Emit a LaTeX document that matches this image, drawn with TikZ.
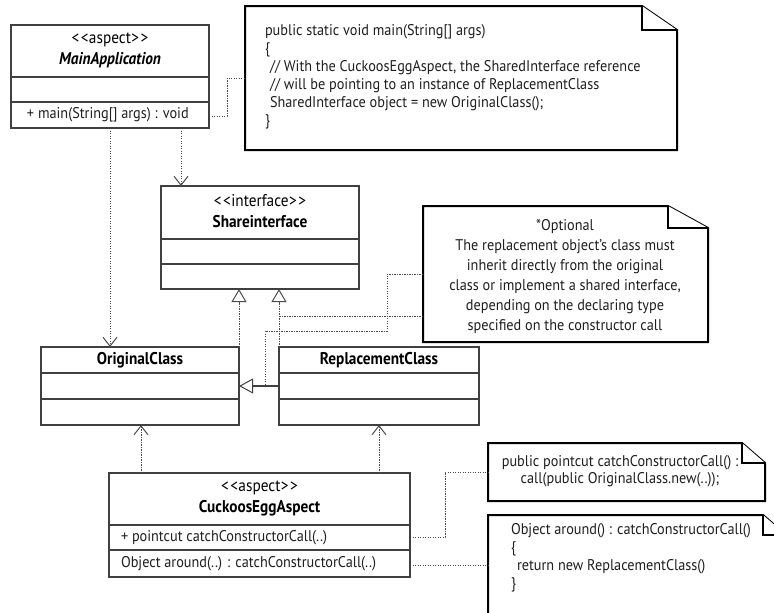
\documentclass[tikz,border=0pt]{standalone}
\usepackage{fontspec}
\setmainfont{PT Sans}[FakeStretch=0.92]
\newfontfamily\hdrfont{PT Sans}[FakeStretch=0.9]
\usetikzlibrary{arrows.meta,calc}
\newcommand\NoteOutline[3]{%
  \draw[noteline] (#1.north west) -- ([xshift=-#2pt]#1.north east) -- ([yshift=-#3pt]#1.north east) -- (#1.south east) -- (#1.south west) -- cycle;
  \draw[noteline] ([xshift=-#2pt]#1.north east) |- ([yshift=-#3pt]#1.north east);}
\newcommand\gl{<\kern1.5pt<\kern0.5pt}
\newcommand\gr{\kern0.5pt>\kern1.5pt>}
\begin{document}
\begin{tikzpicture}[x=1pt,y=-1pt,
  every node/.style={inner sep=0pt, outer sep=0pt},
  txt/.style={font=\fontsize{15.5}{18}\selectfont, text=black!88},
  hdr/.style={font=\hdrfont\fontsize{17}{21}\selectfont, align=center, text=black},
  cls/.style={draw=black!75, line width=1.1pt, anchor=north west, fill=white},
  clsline/.style={draw=black!75, line width=1.1pt},
  notebox/.style={anchor=north west},
  noteline/.style={draw=black, line width=2pt, fill=white, line join=miter},
  dots/.style={draw=black!70, line width=1pt, dash pattern=on 1.2pt off 1.3pt},
  dep/.style={dots, -{Straight Barb[length=9pt,width=14pt,line width=1pt]}},
  real/.style={dots, -{Triangle[open,length=13pt,width=15pt,line width=1pt,fill=white]}},
  gen/.style={draw=black!75, line width=1.1pt, -{Triangle[open,length=14pt,width=15pt,line width=1pt,fill=white]}},
  link/.style={dots}]
\useasboundingbox (0,0) rectangle (774,613);
\clip (0,0) rectangle (774,613);
\fill[white] (0,0) rectangle (774,613);

% ---------- class boxes ----------
\node[cls, minimum width=198pt, minimum height=103pt] (mainapp) at (11,25) {};
\draw[clsline] ([yshift=-52pt]mainapp.north west) -- ([yshift=-52pt]mainapp.north east);
\draw[clsline] ([yshift=-77pt]mainapp.north west) -- ([yshift=-77pt]mainapp.north east);
\node[hdr] (mainapp-h) at (110,50) {\gl aspect\gr\\\textbf{\textit{MainApplication}}};
\node[txt, anchor=west] (mainapp-m) at (27,115) {+ main(String[] args) : void};

\node[cls, minimum width=198pt, minimum height=103pt] (share) at (161,186) {};
\draw[clsline] ([yshift=-53pt]share.north west) -- ([yshift=-53pt]share.north east);
\draw[clsline] ([yshift=-78pt]share.north west) -- ([yshift=-78pt]share.north east);
\node[hdr] (share-h) at (260,211) {\gl interface\gr\\\textbf{Shareinterface}};

\node[cls, minimum width=198pt, minimum height=78pt] (orig) at (41,347) {};
\draw[clsline] ([yshift=-26pt]orig.north west) -- ([yshift=-26pt]orig.north east);
\draw[clsline] ([yshift=-52pt]orig.north west) -- ([yshift=-52pt]orig.north east);
\node[hdr] (orig-h) at (140,360) {\textbf{OriginalClass}};

\node[cls, minimum width=200pt, minimum height=78pt] (repl) at (279,347) {};
\draw[clsline] ([yshift=-26pt]repl.north west) -- ([yshift=-26pt]repl.north east);
\draw[clsline] ([yshift=-52pt]repl.north west) -- ([yshift=-52pt]repl.north east);
\node[hdr] (repl-h) at (379,360) {\textbf{ReplacementClass}};

\node[cls, minimum width=301pt, minimum height=104pt] (cuckoo) at (109,473) {};
\draw[clsline] ([yshift=-52pt]cuckoo.north west) -- ([yshift=-52pt]cuckoo.north east);
\draw[clsline] ([yshift=-77pt]cuckoo.north west) -- ([yshift=-77pt]cuckoo.north east);
\node[hdr] (cuckoo-h) at (259.5,498.5) {\gl aspect\gr\\\textbf{CuckoosEggAspect}};
\node[txt, anchor=west] (cuckoo-p) at (121,538) {+ pointcut catchConstructorCall(..)};
\node[txt, anchor=west] (cuckoo-a) at (121,564) {Object around(..) : catchConstructorCall(..)};

% ---------- notes ----------
\node[notebox, minimum width=432pt, minimum height=144pt] (note1) at (245,6) {};
\NoteOutline{note1}{35}{24}
\node[txt, anchor=west, align=left] (note1-t) at (265,77) {public static void main(String[] args)\\
\{\\
\hspace*{5pt}// With the CuckoosEggAspect, the SharedInterface reference\\
\hspace*{5pt}// will be pointing to an instance of ReplacementClass\\
\hspace*{5pt}SharedInterface object = new OriginalClass();\\
\}};

\node[notebox, minimum width=285pt, minimum height=136pt] (note2) at (423,206) {};
\NoteOutline{note2}{40}{22}
\node[txt, align=center, font=\fontsize{15.5}{20}\selectfont] (note2-t) at (565,277) {*Optional\\
The replacement object's class must\\
inherit directly from the original\\
class or implement a shared interface,\\
depending on the declaring type\\
specified on the constructor call};

\node[notebox, minimum width=277pt, minimum height=58pt] (note3) at (488,443) {};
\NoteOutline{note3}{23}{20}
\node[txt, align=center, font=\fontsize{15.5}{17}\selectfont] (note3-t) at (620,471) {public pointcut catchConstructorCall() :\\
call(public OriginalClass.new(..));};

\node[notebox, minimum width=298pt, minimum height=130pt] (note4) at (488,515) {};
\NoteOutline{note4}{23}{20}
\node[txt, anchor=west, align=left] (note4-t) at (511,558) {Object around() : catchConstructorCall()\\
\{\\
\hspace*{6pt}return new ReplacementClass()\\
\}};

% ---------- connectors ----------
\draw[dep] ([xshift=99pt]mainapp.south west) -- ([xshift=69pt]orig.north west);
\draw[dep] ([xshift=170pt]mainapp.south west) -- ([xshift=20pt]share.north west);
\draw[link] ([yshift=12pt]mainapp.south east) -- ++(18,0) |- (note1.west);

\draw[real] (orig.north east) -- (orig.north east |- share.south);
\draw[real] (repl.north west) -- (repl.north west |- share.south);
\draw[gen] (repl.west) -- (orig.east);

\coordinate (genpt) at ($(orig.east)!0.65!(repl.west)$);
\draw[link] (note2.west) -- ++(-36,0) -- ++(0,57) -| (genpt);
\draw[link] ([yshift=-42pt]note2.west) -- ([yshift=-42pt]note2.west -| repl.north west);

\draw[dep] ([xshift=32pt]cuckoo.north west) -- ([xshift=32pt]cuckoo.north west |- orig.south);
\draw[dep] ([xshift=270pt]cuckoo.north west) -- ([xshift=270pt]cuckoo.north west |- repl.south);

\draw[link] ([yshift=-12pt]cuckoo.east) -- ++(35,0) |- (note3.west);
\draw[link] ([yshift=12pt]cuckoo.south east) -- ([yshift=12pt]cuckoo.south east -| note4.west);
\end{tikzpicture}
\end{document}
